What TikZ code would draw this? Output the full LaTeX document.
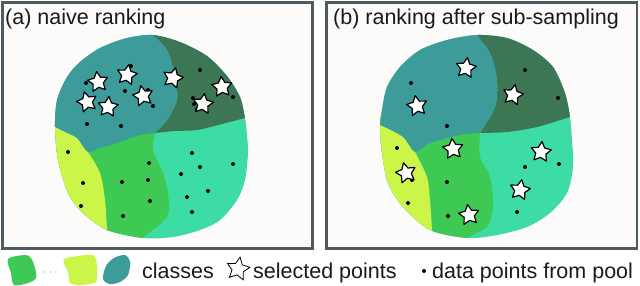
\documentclass[tikz,border=0pt]{standalone}
\usepackage{fontspec}
\setmainfont{Liberation Sans}
\usetikzlibrary{shapes.geometric}
\definecolor{tealc}{HTML}{3D9B9A}
\definecolor{dkgc}{HTML}{3C7654}
\definecolor{yelc}{HTML}{CBF548}
\definecolor{grnc}{HTML}{3DC953}
\definecolor{mintc}{HTML}{3DDCA5}
\definecolor{boxc}{HTML}{505B60}
\definecolor{bgc}{HTML}{FCFBFA}
\definecolor{txtc}{HTML}{1A1A1A}
\newcommand{\lblfont}{\fontsize{21.5}{24}\selectfont}
\tikzset{
  panelbox/.style={draw=boxc, line width=2.5pt, fill=bgc},
  selstar/.style={star, star points=5, star point ratio=1.95, minimum size=21pt, inner sep=0pt, draw=black, fill=white, line width=1.2pt, line join=round},
  legstar/.style={star, star points=5, star point ratio=2.0, minimum size=24pt, inner sep=0pt, draw=black, fill=white, line width=0.8pt},
  lbl/.style={anchor=base west, inner sep=0pt, font=\lblfont, text=txtc},
  pooldot/.style={fill=black}
}
\begin{document}
\begin{tikzpicture}[x=1pt,y=-1pt]
\useasboundingbox (0,0) rectangle (640,286);
\fill[white] (0,0) rectangle (640,286);
% panels
\draw[panelbox] (2.5,2.5) rectangle (312.5,248.5);
\draw[panelbox] (326.5,2.5) rectangle (637,248.5);
\node[lbl] (ta) at (5,25) {(a) naive ranking};
\node[lbl] (tb) at (333,25) {(b) ranking after sub-sampling};

% ---------- left blob ----------
\begin{scope}
\clip plot[smooth cycle] coordinates {(55,127) (57,100) (67,77) (80,62) (100,48) (127,38) (153,35) (180,42) (207,56) (227,76) (240,97) (245,118) (247,135) (248,153) (245,180) (237,200) (220,220) (200,230) (173,237) (143,238) (107,230) (83,213) (68,193) (58,160)};
\fill[mintc] (0,0) rectangle (320,260);
\fill[grnc] (40,110) -- (155,125) -- plot[smooth] coordinates {(155,133) (153,150) (163,173) (168,193) (167,217) (143,238) (138,250)} -- (138,260) -- (30,260) -- cycle;
\fill[yelc] (30,105) -- (100,130) -- plot[smooth] coordinates {(88,152) (100,173) (105,200) (107,230) (108,250)} -- (108,260) -- (30,260) -- cycle;
\fill[dkgc] (150,20) -- plot[smooth] coordinates {(153,30) (153,35) (167,50) (175,77) (177,100) (167,120) (155,133)} -- plot[smooth] coordinates {(155,133) (175,131) (197,130) (222,124) (245,118) (260,114)} -- (270,20) -- cycle;
\fill[tealc] (150,20) -- plot[smooth] coordinates {(153,30) (153,35) (167,50) (175,77) (177,100) (167,120) (155,133)} -- plot[smooth] coordinates {(155,133) (140,135) (117,143) (100,148) (88,152) (77,138) (65,132) (55,127) (40,121)} -- (30,20) -- cycle;
\end{scope}
% dots left
\foreach \p in {(131,66),(86,83),(125,91),(148,90),(153,106),(87,124),(121,126),
  (200,70),(193,98),(194,104),(197,109),(233,97),
  (68,152),(83,183),(81,206),
  (149,163),(122,182),(148,180),(150,201),(123,216),
  (192,153),(200,167),(233,164),(181,174),(208,191),(187,197),(192,212)}
  \fill[pooldot] \p circle (2pt);
% stars left
\node[selstar, shape border rotate=8] (la1) at (98,82) {};
\node[selstar, shape border rotate=-10] (la2) at (127,75) {};
\node[selstar, shape border rotate=15] (la3) at (87,102) {};
\node[selstar, shape border rotate=-5] (la4) at (108,107) {};
\node[selstar, shape border rotate=12] (la5) at (143,96) {};
\node[selstar, shape border rotate=-15] (la6) at (173,78) {};
\node[selstar, shape border rotate=5] (la7) at (222,87) {};
\node[selstar, shape border rotate=-8] (la8) at (203,104) {};

% ---------- right blob ----------
\begin{scope}
\clip plot[smooth cycle] coordinates {(477,35) (507,38) (533,50) (553,67) (565,93) (570,117) (572,140) (573,167) (567,193) (550,213) (527,227) (497,235) (467,238) (430,230) (403,207) (388,183) (382,153) (380,127) (382,110) (387,87) (400,67) (420,50) (447,40)};
\fill[mintc] (330,0) rectangle (640,260);
\fill[grnc] (360,110) -- (480,125) -- plot[smooth] coordinates {(480,133) (480,157) (490,177) (493,207) (487,227) (467,238) (462,250)} -- (462,260) -- (360,260) -- cycle;
\fill[yelc] (360,105) -- (425,130) -- plot[smooth] coordinates {(415,152) (427,177) (430,200) (432,230) (433,250)} -- (433,260) -- (360,260) -- cycle;
\fill[dkgc] (474,20) -- plot[smooth] coordinates {(477,30) (477,35) (490,53) (497,80) (495,107) (480,133)} -- plot[smooth] coordinates {(480,133) (507,132) (537,127) (570,117) (585,113)} -- (600,20) -- cycle;
\fill[tealc] (474,20) -- plot[smooth] coordinates {(477,30) (477,35) (490,53) (497,80) (495,107) (480,133)} -- plot[smooth] coordinates {(480,133) (460,135) (430,143) (415,152) (403,137) (380,125) (365,122)} -- (360,20) -- cycle;
\end{scope}
% dots right
\foreach \p in {(411,83),(447,126),(525,70),(558,98),(397,148),(412,180),(408,203),(447,182),(448,216),(525,167),(559,164),(517,212)}
  \fill[pooldot] \p circle (2pt);
% stars right
\node[selstar, shape border rotate=-8] (rb1) at (466,68) {};
\node[selstar, shape border rotate=10] (rb2) at (417,106) {};
\node[selstar, shape border rotate=-12] (rb3) at (513,95) {};
\node[selstar, shape border rotate=6] (rb4) at (453,149) {};
\node[selstar, shape border rotate=-6] (rb5) at (541,152) {};
\node[selstar, shape border rotate=14] (rb6) at (406,173) {};
\node[selstar, shape border rotate=-10] (rb7) at (520,190) {};
\node[selstar, shape border rotate=8] (rb8) at (469,215) {};

% ---------- legend ----------
\fill[grnc] plot[smooth cycle] coordinates {(8,259) (25,255) (31,258) (35,268) (36,278) (28,283) (14,285) (11,273)};
\foreach \xx in {44,50,56} \fill[gray] (\xx,272) circle (0.7pt);
\fill[yelc] plot[smooth cycle, tension=0.4] coordinates {(64,259) (93,255) (97,268) (96,282) (80,285) (70,283) (68,272)};
\fill[tealc] plot[smooth cycle] coordinates {(103,279) (106,266) (114,258) (125,255) (130,262) (128,275) (120,282) (110,284)};
\node[lbl] (lc) at (142,278) {classes};
\node[legstar, shape border rotate=-10] (ls) at (238,269) {};
\node[lbl] (lsel) at (253,278) {selected points};
\fill[pooldot] (424,271) circle (2pt);
\node[lbl] (ld) at (432,278) {data points from pool};
\end{tikzpicture}
\end{document}
